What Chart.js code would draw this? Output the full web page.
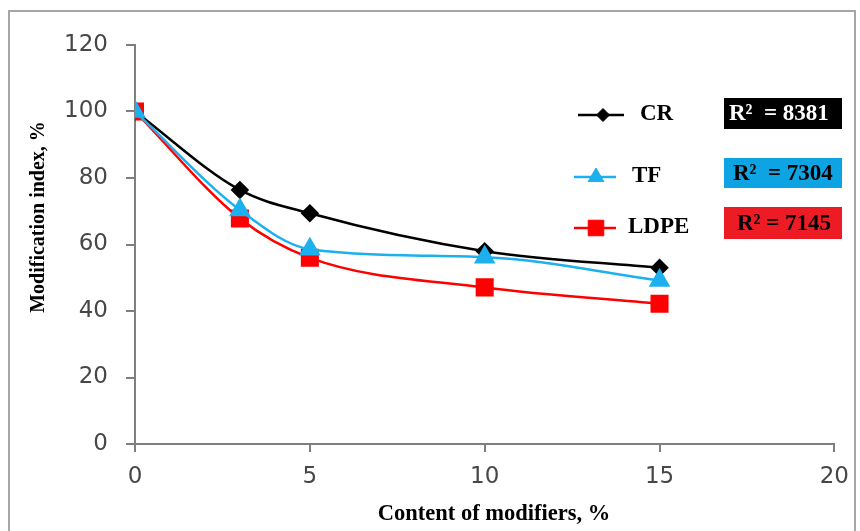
<!DOCTYPE html>
<html>
<head>
<meta charset="utf-8">
<script src="https://cdn.jsdelivr.net/npm/chart.js@4/dist/chart.umd.min.js"></script>
<style>
  html, body { margin: 0; padding: 0; background: #ffffff; }
  #wrap { width: 860px; height: 531px; }
</style>
</head>
<body>
<div id="wrap"><canvas id="c" width="860" height="531"></canvas></div>
<script>
// ---- data ----
const contents = [0, 3, 5, 10, 15];
const crValues = [100, 76.4, 69.4, 58.0, 53.0];
const tfValues = [100, 70.4, 58.6, 56.2, 49.2];
const ldpeValues = [100, 67.8, 56.0, 47.1, 42.2];
const seriesNames = ['CR', 'TF', 'LDPE'];
const r2Labels = ['R\u00B2  = 8381', 'R\u00B2  = 7304', 'R\u00B2 = 7145'];
const xTitle = 'Content of modifiers, %';
const yTitle = 'Modification index, %';

const colors = { CR: '#000000', TF: '#1cb0ee', LDPE: '#ff0000' };
const boxColors = ['#000000', '#0ea3e3', '#ed1c24'];
const boxText = ['#ffffff', '#000000', '#000000'];

function pts(vals) { return contents.map((x, i) => ({ x: x, y: vals[i] })); }

const serif = '"Liberation Serif", "Times New Roman", serif';

const decor = {
  id: 'decor',
  beforeDraw(chart) {
    const ctx = chart.ctx;
    ctx.save();
    ctx.fillStyle = '#ffffff';
    ctx.fillRect(0, 0, chart.width, chart.height);
    ctx.strokeStyle = '#a6a6a6';
    ctx.lineWidth = 2;
    ctx.strokeRect(9, 11, 846, 540);
    ctx.restore();
  },
  afterDraw(chart) {
    const ctx = chart.ctx;
    ctx.save();
    // axis titles
    ctx.fillStyle = '#000000';
    ctx.font = 'bold 22.5px ' + serif;
    ctx.textAlign = 'center';
    ctx.textBaseline = 'middle';
    ctx.fillText(xTitle, 494, 514);
    ctx.save();
    ctx.translate(39, 217);
    ctx.rotate(-Math.PI / 2);
    ctx.font = 'bold 20px ' + serif;
    ctx.fillText(yTitle, 0, 0);
    ctx.restore();

    // legend
    const legendY = [115, 177, 228];
    const lineX = [[578, 624], [574, 616], [574, 616]];
    const markX = [603, 596, 596];
    const markR = [6.5, 9, 11];
    const textX = [640, 632, 628];
    chart.data.datasets.forEach((ds, i) => {
      ctx.strokeStyle = ds.borderColor;
      ctx.lineWidth = 2.5;
      ctx.beginPath();
      ctx.moveTo(lineX[i][0], legendY[i]);
      ctx.lineTo(lineX[i][1], legendY[i]);
      ctx.stroke();
      ctx.fillStyle = ds.backgroundColor;
      ctx.strokeStyle = ds.borderColor;
      ctx.lineWidth = 1;
      Chart.helpers.drawPoint(ctx, {
        pointStyle: ds.pointStyle, radius: markR[i], rotation: 0, borderWidth: 1
      }, markX[i], legendY[i]);
      ctx.fillStyle = '#000000';
      ctx.font = 'bold 23px ' + serif;
      ctx.textAlign = 'left';
      ctx.textBaseline = 'middle';
      ctx.fillText(seriesNames[i], textX[i], legendY[i] - 1);
    });
    // R2 boxes
    const boxY = [[98, 129], [158, 188], [207, 239]];
    const boxTextX = [729, 733, 737];
    r2Labels.forEach((lab, i) => {
      ctx.fillStyle = boxColors[i];
      ctx.fillRect(724, boxY[i][0], 118, boxY[i][1] - boxY[i][0]);
      ctx.fillStyle = boxText[i];
      ctx.font = 'bold 23px ' + serif;
      ctx.textAlign = 'left';
      ctx.textBaseline = 'middle';
      ctx.fillText(lab, boxTextX[i], (boxY[i][0] + boxY[i][1]) / 2 + 1);
    });
    ctx.restore();
  }
};

const chart = new Chart(document.getElementById('c'), {
  type: 'line',
  data: {
    datasets: [
      { label: seriesNames[0], data: pts(crValues), borderColor: colors.CR, backgroundColor: colors.CR, order: 2,
        pointStyle: 'rectRot', pointRadius: 7.5, borderWidth: 2.5, tension: 0.4, cubicInterpolationMode: 'monotone' },
      { label: seriesNames[1], data: pts(tfValues), borderColor: colors.TF, backgroundColor: colors.TF, order: 0,
        pointStyle: 'triangle', pointRadius: 10, borderWidth: 2.5, tension: 0.4, cubicInterpolationMode: 'monotone' },
      { label: seriesNames[2], data: pts(ldpeValues), borderColor: colors.LDPE, backgroundColor: colors.LDPE, order: 1,
        pointStyle: 'rect', pointRadius: 11, borderWidth: 2.5, tension: 0.4, cubicInterpolationMode: 'monotone' }
    ]
  },
  options: {
    responsive: false,
    animation: false,
    layout: { padding: { left: 0, right: 25, top: 45, bottom: 0 } },
    plugins: { legend: { display: false }, tooltip: { enabled: false } },
    elements: { point: { borderWidth: 1 } },
    scales: {
      x: {
        type: 'linear', min: 0, max: 20,
        ticks: { stepSize: 5, color: '#474747', font: { family: '"DejaVu Sans", sans-serif', size: 23 }, padding: 11 },
        grid: { drawOnChartArea: false, drawTicks: true, tickLength: 8, color: '#7f7f7f', lineWidth: 2 },
        border: { color: '#7f7f7f', width: 2 },
        afterFit(s) { s.height = 531 - 444; }
      },
      y: {
        min: 0, max: 120,
        ticks: { stepSize: 20, color: '#474747', font: { family: '"DejaVu Sans", sans-serif', size: 23 }, padding: 18 },
        grid: { drawOnChartArea: false, drawTicks: true, tickLength: 9, color: '#7f7f7f', lineWidth: 2 },
        border: { color: '#7f7f7f', width: 2 },
        afterFit(s) { s.width = 135; }
      }
    }
  },
  plugins: [decor]
});
</script>
</body>
</html>
